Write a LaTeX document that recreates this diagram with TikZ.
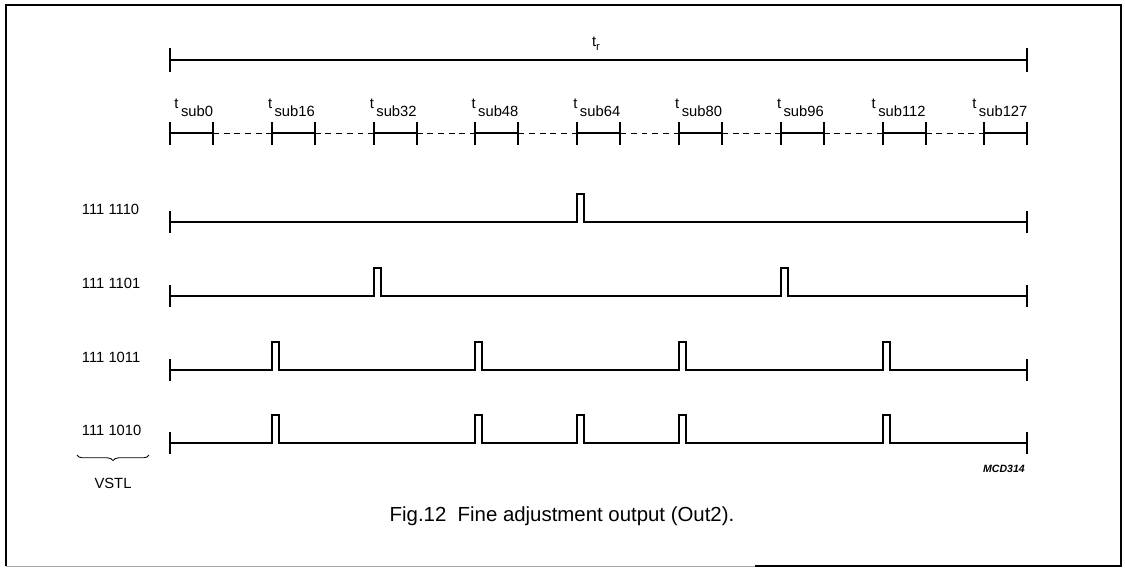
\documentclass[tikz,border=0pt]{standalone}
\usepackage{fontspec}
\setmainfont{Liberation Sans}
\usetikzlibrary{decorations.pathreplacing}

\begin{document}
\begin{tikzpicture}[x=0.025cm, y=-0.025cm, line width=1.4pt,
    gapline/.style={line width=0.7pt, dash pattern=on 4.2pt off 3.4pt},
    lbl/.style={font=\fontsize{10.5}{12}\selectfont, inner sep=0pt}]
    \useasboundingbox (0,0) rectangle (1125,568);
    \draw[line width=1.2pt] (755,566) -- (1121,566) -- (1121,5) -- (6,5) -- (6,566);
    \draw[line width=0.6pt, black!35] (6,566) -- (755,566);

    % whole period
    \draw (170,60) -- (1027,60);
    \draw (170,48) -- (170,72);
    \draw (1027,48) -- (1027,72);
    \node[lbl] (tr) at (596,44) {t\raisebox{-3pt}{\fontsize{8}{9}\selectfont r}};

    % sub periods
    \foreach \k/\lab in {0/0, 1/16, 2/32, 3/48, 4/64, 5/80, 6/96, 7/112, 8/127} {
        \node[lbl, anchor=base east] (sub\k) at ({214+\k*101.8},116) {\raisebox{5pt}{t}\,sub\lab};
        \draw ({170+\k*101.8},133) -- ({213+\k*101.8},133);
        \draw ({170+\k*101.8},122) -- ++(0,23);
        \draw ({213+\k*101.8},122) -- ++(0,23);
    }
    \foreach \k in {0,...,7}
        \draw[gapline] ({213+\k*101.8},133) -- ({170+(\k+1)*101.8},133);

    % output rows
    \foreach \row/\y/\code/\pulses in {1/222/{111 1110}/{4}, 2/296/{111 1101}/{2,6},
                                      3/370/{111 1011}/{1,3,5,7}, 4/443/{111 1010}/{1,3,4,5,7}} {
        \node[lbl, anchor=west] (code\row) at (81,\y-13) {\code};
        \draw (170,\y) \foreach \k in \pulses {-- ({170+\k*101.8},\y) -- ++(0,-28) -- ++(7,0) -- ++(0,28)} -- (1027,\y);
        \draw (170,\y-11) -- (170,\y+11);
        \draw (1027,\y-11) -- (1027,\y+11);
    }

    \draw[decorate, decoration={brace, amplitude=4pt, mirror}, line width=0.6pt] (77,455) -- (149,455);
    \node[lbl] (vstl) at (113,483) {VSTL};
    \node[font=\fontsize{7.5}{9}\selectfont\bfseries\itshape] (mcd) at (1004,469) {MCD314};
    \node[font=\fontsize{14.5}{17}\selectfont] (cap) at (562,516) {Fig.12\ \ Fine adjustment output (Out2).};
\end{tikzpicture}
\end{document}
